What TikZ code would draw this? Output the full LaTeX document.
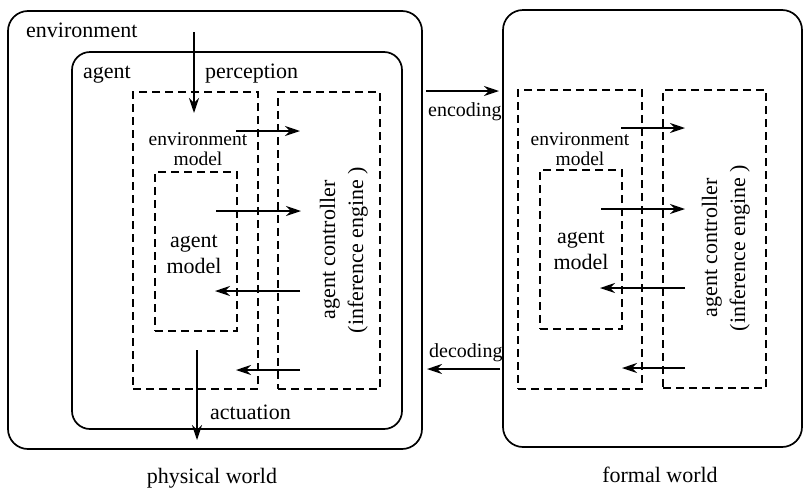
\documentclass[tikz,border=0pt]{standalone}
\usepackage{fontspec}
\setmainfont{Liberation Serif}
\usetikzlibrary{arrows.meta}
\begin{document}
\begin{tikzpicture}[x=1pt, y=-1pt,
  world/.style={draw, line width=1.7pt, rounded corners=20pt, inner sep=0pt},
  part/.style={draw, line width=1.6pt, dash pattern=on 8pt off 5pt, inner sep=0pt},
  flow/.style={-{Stealth[length=15pt, width=10pt, inset=5pt]}, line width=1.6pt},
  lbl/.style={inner sep=0pt, font=\fontsize{22}{26}\selectfont},
  small/.style={inner sep=0pt, font=\fontsize{20}{24}\selectfont},
  pair/.style={inner sep=0pt, align=center, font=\fontsize{19.5}{20.5}\selectfont},
  vlbl/.style={inner sep=0pt, rotate=90, anchor=base, font=\fontsize{22}{26}\selectfont}]
\useasboundingbox (0,0) rectangle (804,488);

% physical world: environment around the agent
\node[world, minimum width=414pt, minimum height=438pt] (env) at (215,230) {};
\node[world, rounded corners=18pt, minimum width=330pt, minimum height=377pt] (agent) at (237,240.5) {};
\node[part, minimum width=125pt, minimum height=297pt] (envmodelL) at (195.5,240.5) {};
\node[part, minimum width=102pt, minimum height=297pt] (ctrlL) at (329,240.5) {};
\node[part, minimum width=82pt, minimum height=159pt] (agmodelL) at (196,251.5) {};

% formal world
\node[world, minimum width=299pt, minimum height=437pt] (formal) at (652.5,228.5) {};
\node[part, minimum width=124pt, minimum height=299pt] (envmodelR) at (580,239.5) {};
\node[part, minimum width=103pt, minimum height=298pt] (ctrlR) at (714.5,239) {};
\node[part, minimum width=82pt, minimum height=159pt] (agmodelR) at (581,249.5) {};

% labels
\node[lbl, anchor=base west] (tenv) at (26,37) {environment};
\node[lbl, anchor=base west] (tagent) at (83,78) {agent};
\node[lbl, anchor=base west] (tperc) at (205,78) {perception};
\node[lbl, anchor=base west] (tact) at (210,419) {actuation};
\node[small, anchor=base west] (tenc) at (428,116) {encoding};
\node[small, anchor=base west] (tdec) at (429,357) {decoding};
\node[lbl, anchor=base] (tphys) at (212,483) {physical world};
\node[lbl, anchor=base] (tform) at (660,482) {formal world};

\node[pair, anchor=north] (temL) at (198,132) {environment\\model};
\node[lbl, anchor=base] (tam1L) at (194,247) {agent};
\node[lbl, anchor=base] (tam2L) at (194,273) {model};
\node[vlbl] (tc1L) at (335,250) {agent controller};
\node[vlbl] (tc2L) at (363,250) {(inference engine )};

\node[pair, anchor=north] (temR) at (580,132) {environment\\model};
\node[lbl, anchor=base] (tam1R) at (581,243) {agent};
\node[lbl, anchor=base] (tam2R) at (581,269) {model};
\node[vlbl] (tc1R) at (717,248) {agent controller};
\node[vlbl] (tc2R) at (745,248) {(inference engine )};

% arrow end points
\coordinate (percA) at (194,32);   \coordinate (percB) at (194,113);
\coordinate (actA) at (197,350);   \coordinate (actB) at (197,440);
\coordinate (encA) at (426,91);    \coordinate (encB) at (499,91);
\coordinate (decA) at (500,369);   \coordinate (decB) at (427,369);
\coordinate (l1A) at (236,131);    \coordinate (l1B) at (300,131);
\coordinate (l2A) at (216,211);    \coordinate (l2B) at (301,211);
\coordinate (l3A) at (300,291);    \coordinate (l3B) at (215,291);
\coordinate (l4A) at (300,370);    \coordinate (l4B) at (236,370);
\coordinate (r1A) at (621,128);    \coordinate (r1B) at (685,128);
\coordinate (r2A) at (601,209);    \coordinate (r2B) at (685,209);
\coordinate (r3A) at (685,288);    \coordinate (r3B) at (600,288);
\coordinate (r4A) at (685,368);    \coordinate (r4B) at (622,368);

\draw[flow] (percA) -- (percB);
\draw[flow] (actA) -- (actB);
\draw[flow] (encA) -- (encB);
\draw[flow] (decA) -- (decB);
\draw[flow] (l1A) -- (l1B);
\draw[flow] (l2A) -- (l2B);
\draw[flow] (l3A) -- (l3B);
\draw[flow] (l4A) -- (l4B);
\draw[flow] (r1A) -- (r1B);
\draw[flow] (r2A) -- (r2B);
\draw[flow] (r3A) -- (r3B);
\draw[flow] (r4A) -- (r4B);
\end{tikzpicture}
\end{document}
